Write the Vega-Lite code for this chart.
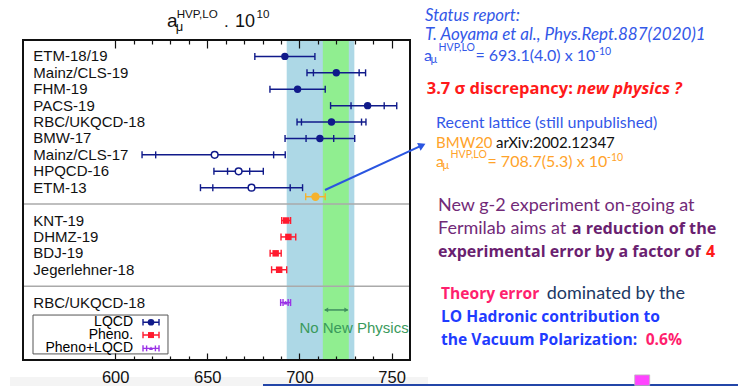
{
  "$schema": "https://vega.github.io/schema/vega-lite/v6.json",
  "width": 387,
  "height": 320,
  "autosize": "none",
  "padding": {"left": 23, "top": 40, "right": 328, "bottom": 26},
  "background": "white",
  "config": {"view": {"stroke": null}, "font": "Liberation Sans"},
  "datasets": {
    "results": [
      {"name": "ETM-18/19", "row": 1, "group": "LQCD", "value": 692.1, "lo": 675.8, "hi": 708.4},
      {"name": "Mainz/CLS-19", "row": 2, "group": "LQCD", "value": 720.0, "lo": 704.1, "hi": 735.9, "ilo": 707.6, "ihi": 732.4},
      {"name": "FHM-19", "row": 3, "group": "LQCD", "value": 699.0, "lo": 684.0, "hi": 714.0},
      {"name": "PACS-19", "row": 4, "group": "LQCD", "value": 737.0, "lo": 716.9, "hi": 752.8, "ilo": 728.0, "ihi": 746.0},
      {"name": "RBC/UKQCD-18", "row": 5, "group": "LQCD", "value": 717.4, "lo": 698.7, "hi": 736.1, "ilo": 701.1, "ihi": 733.7},
      {"name": "BMW-17", "row": 6, "group": "LQCD", "value": 711.1, "lo": 692.2, "hi": 730.0, "ilo": 703.6, "ihi": 718.6},
      {"name": "Mainz/CLS-17", "row": 7, "group": "LQCD", "superseded": true, "value": 654.0, "lo": 614.6, "hi": 692.3, "ilo": 622.0, "ihi": 686.0},
      {"name": "HPQCD-16", "row": 8, "group": "LQCD", "superseded": true, "value": 667.0, "lo": 653.6, "hi": 680.4, "ilo": 661.0, "ihi": 673.0},
      {"name": "ETM-13", "row": 9, "group": "LQCD", "superseded": true, "value": 674.0, "lo": 646.3, "hi": 701.7, "ilo": 653.0, "ihi": 695.0},
      {"name": "BMW20", "row": 9.55, "group": "BMW20", "value": 708.7, "lo": 703.4, "hi": 714.0},
      {"name": "KNT-19", "row": 11, "group": "Pheno.", "value": 692.8, "lo": 690.4, "hi": 695.2},
      {"name": "DHMZ-19", "row": 12, "group": "Pheno.", "value": 694.0, "lo": 690.0, "hi": 698.0},
      {"name": "BDJ-19", "row": 13, "group": "Pheno.", "value": 687.1, "lo": 684.1, "hi": 690.1},
      {"name": "Jegerlehner-18", "row": 14, "group": "Pheno.", "value": 689.0, "lo": 684.9, "hi": 693.1},
      {"name": "RBC/UKQCD-18", "row": 16, "group": "Pheno+LQCD", "value": 692.5, "lo": 689.8, "hi": 695.2, "ilo": 691.1, "ihi": 693.9}
    ]
  },
  "data": {"values": [{}]},
  "resolve": {"axis": {"x": "independent"}},
  "layer": [
    {"mark": {"type": "rect", "color": "#f4f4f4"},
     "encoding": {"x": {"datum": 542.95, "axis": null}, "x2": {"datum": 769.76}, "y": {"datum": 20.54, "axis": null}, "y2": {"datum": 21.08}}},
    {"mark": {"type": "rect", "color": "#add8e6"},
     "encoding": {
       "x": {"datum": 693.1, "type": "quantitative", "scale": {"domain": [550, 760], "nice": false, "zero": false},
             "axis": {"orient": "bottom", "values": [600,610,620,630,640,650,660,670,680,690,700,710,720,730,740,750],
                      "labelExpr": "datum.value % 50 === 0 ? datum.label : ''",
                      "tickSize": {"condition": {"test": "datum.value % 50 === 0", "value": -7}, "value": -4},
                      "tickColor": "#111", "tickWidth": 1.2, "domain": false, "grid": false, "title": null,
                      "labelFont": "Liberation Sans", "labelFontSize": 16.5, "labelColor": "#111", "labelPadding": 16,
                      "labelFlush": false, "labelOverlap": false, "zindex": 2}},
       "x2": {"datum": 729.8},
       "y": {"datum": 0, "type": "quantitative", "scale": {"domain": [0, 19.5], "reverse": true, "nice": false, "zero": false}, "axis": null},
       "y2": {"datum": 19.5}}},
    {"mark": {"type": "rect", "color": "#90ee90"},
     "encoding": {
       "x": {"datum": 712.7, "type": "quantitative",
             "axis": {"orient": "top", "values": [600,610,620,630,640,650,660,670,680,690,700,710,720,730,740,750],
                      "labels": false,
                      "tickSize": {"condition": {"test": "datum.value % 50 === 0", "value": -8}, "value": -4},
                      "tickColor": "#111", "tickWidth": 1.2, "domain": false, "grid": false, "title": null, "zindex": 2}},
       "x2": {"datum": 726.8},
       "y": {"datum": 0, "axis": null},
       "y2": {"datum": 19.5}}},
    {"mark": {"type": "rule", "color": "#aaaaaa", "strokeWidth": 1.5},
     "encoding": {"x": {"datum": 550, "axis": null}, "x2": {"datum": 760}, "y": {"datum": 10, "axis": null}}},
    {"mark": {"type": "rule", "color": "#aaaaaa", "strokeWidth": 1.5},
     "encoding": {"x": {"datum": 550, "axis": null}, "x2": {"datum": 760}, "y": {"datum": 15, "axis": null}}},
    {"data": {"name": "results"},
     "mark": {"type": "rule", "strokeWidth": 1.5},
     "encoding": {
       "x": {"field": "lo", "type": "quantitative", "axis": null}, "x2": {"field": "hi"},
       "y": {"field": "row", "type": "quantitative", "axis": null},
       "color": {"field": "group", "type": "nominal", "legend": null,
                 "scale": {"domain": ["LQCD", "Pheno.", "Pheno+LQCD", "BMW20"], "range": ["#101a8a", "#ff1a2e", "#9a32e6", "#f5b22e"]}}}},
    {"data": {"name": "results"},
     "mark": {"type": "tick", "orient": "vertical", "size": 7, "thickness": 1.4, "opacity": 1},
     "encoding": {"x": {"field": "lo", "type": "quantitative", "axis": null}, "y": {"field": "row", "type": "quantitative", "axis": null},
                  "color": {"field": "group", "type": "nominal", "legend": null}}},
    {"data": {"name": "results"},
     "mark": {"type": "tick", "orient": "vertical", "size": 7, "thickness": 1.4, "opacity": 1},
     "encoding": {"x": {"field": "hi", "type": "quantitative", "axis": null}, "y": {"field": "row", "type": "quantitative", "axis": null},
                  "color": {"field": "group", "type": "nominal", "legend": null}}},
    {"data": {"name": "results"},
     "mark": {"type": "tick", "orient": "vertical", "size": 7, "thickness": 1.4, "opacity": 1},
     "encoding": {"x": {"field": "ilo", "type": "quantitative", "axis": null}, "y": {"field": "row", "type": "quantitative", "axis": null},
                  "color": {"field": "group", "type": "nominal", "legend": null}}},
    {"data": {"name": "results"},
     "mark": {"type": "tick", "orient": "vertical", "size": 7, "thickness": 1.4, "opacity": 1},
     "encoding": {"x": {"field": "ihi", "type": "quantitative", "axis": null}, "y": {"field": "row", "type": "quantitative", "axis": null},
                  "color": {"field": "group", "type": "nominal", "legend": null}}},
    {"data": {"name": "results"},
     "transform": [{"filter": "datum.group === 'LQCD' && !datum.superseded"}],
     "mark": {"type": "point", "shape": "circle", "filled": true, "size": 55, "opacity": 1},
     "encoding": {"x": {"field": "value", "type": "quantitative", "axis": null}, "y": {"field": "row", "type": "quantitative", "axis": null},
                  "color": {"field": "group", "type": "nominal", "legend": null}}},
    {"data": {"name": "results"},
     "transform": [{"filter": "datum.superseded === true"}],
     "mark": {"type": "point", "shape": "circle", "filled": false, "fill": "white", "size": 45, "strokeWidth": 1.5, "opacity": 1},
     "encoding": {"x": {"field": "value", "type": "quantitative", "axis": null}, "y": {"field": "row", "type": "quantitative", "axis": null},
                  "color": {"field": "group", "type": "nominal", "legend": null}}},
    {"data": {"name": "results"},
     "transform": [{"filter": "datum.group === 'Pheno.'"}],
     "mark": {"type": "point", "shape": "square", "filled": true, "size": 42, "opacity": 1},
     "encoding": {"x": {"field": "value", "type": "quantitative", "axis": null}, "y": {"field": "row", "type": "quantitative", "axis": null},
                  "color": {"field": "group", "type": "nominal", "legend": null}}},
    {"data": {"name": "results"},
     "transform": [{"filter": "datum.group === 'Pheno+LQCD'"}],
     "mark": {"type": "point", "shape": "triangle-up", "filled": true, "size": 20, "opacity": 1},
     "encoding": {"x": {"field": "value", "type": "quantitative", "axis": null}, "y": {"field": "row", "type": "quantitative", "axis": null},
                  "color": {"field": "group", "type": "nominal", "legend": null}}},
    {"data": {"name": "results"},
     "transform": [{"filter": "datum.group === 'BMW20'"}],
     "mark": {"type": "point", "shape": "circle", "filled": true, "size": 70, "opacity": 1},
     "encoding": {"x": {"field": "value", "type": "quantitative", "axis": null}, "y": {"field": "row", "type": "quantitative", "axis": null},
                  "color": {"field": "group", "type": "nominal", "legend": null}}},
    {"data": {"name": "results"},
     "transform": [{"filter": "datum.group !== 'BMW20'"}],
     "mark": {"type": "text", "align": "left", "baseline": "middle", "font": "Liberation Sans", "fontSize": 15, "color": "#111"},
     "encoding": {"x": {"datum": 555.6, "axis": null}, "y": {"field": "row", "type": "quantitative", "axis": null}, "text": {"field": "name"}}},
    {"mark": {"type": "rect", "fill": "white", "stroke": "#555555", "strokeWidth": 1},
     "encoding": {"x": {"datum": 555.43, "axis": null}, "x2": {"datum": 628.68}, "y": {"datum": 16.76, "axis": null}, "y2": {"datum": 19.13}}},
    {"mark": {"type": "text", "text": "LQCD", "align": "right", "baseline": "middle", "font": "Liberation Sans", "fontSize": 14, "color": "#000"},
     "encoding": {"x": {"datum": 609.7, "axis": null}, "y": {"datum": 17.20, "axis": null}}},
    {"mark": {"type": "text", "text": "Pheno.", "align": "right", "baseline": "middle", "font": "Liberation Sans", "fontSize": 14, "color": "#000"},
     "encoding": {"x": {"datum": 609.7, "axis": null}, "y": {"datum": 17.98, "axis": null}}},
    {"mark": {"type": "text", "text": "Pheno+LQCD", "align": "right", "baseline": "middle", "font": "Liberation Sans", "fontSize": 14, "color": "#000"},
     "encoding": {"x": {"datum": 609.7, "axis": null}, "y": {"datum": 18.79, "axis": null}}},
    {"mark": {"type": "point", "shape": "M-1,0H1M-1,-0.4V0.4M1,-0.4V0.4", "filled": false, "size": 256, "strokeWidth": 1.4, "color": "#101a8a", "opacity": 1},
     "encoding": {"x": {"datum": 619.46, "axis": null}, "y": {"datum": 17.20, "axis": null}}},
    {"mark": {"type": "point", "shape": "circle", "filled": true, "size": 45, "color": "#101a8a", "opacity": 1},
     "encoding": {"x": {"datum": 619.46, "axis": null}, "y": {"datum": 17.20, "axis": null}}},
    {"mark": {"type": "point", "shape": "M-1,0H1M-1,-0.4V0.4M1,-0.4V0.4", "filled": false, "size": 256, "strokeWidth": 1.4, "color": "#ff1a2e", "opacity": 1},
     "encoding": {"x": {"datum": 619.46, "axis": null}, "y": {"datum": 17.98, "axis": null}}},
    {"mark": {"type": "point", "shape": "square", "filled": true, "size": 36, "color": "#ff1a2e", "opacity": 1},
     "encoding": {"x": {"datum": 619.46, "axis": null}, "y": {"datum": 17.98, "axis": null}}},
    {"mark": {"type": "point", "shape": "M-1,0H1M-1,-0.4V0.4M1,-0.4V0.4M-0.55,-0.35V0.35M0.55,-0.35V0.35", "filled": false, "size": 256, "strokeWidth": 1.4, "color": "#9a32e6", "opacity": 1},
     "encoding": {"x": {"datum": 619.46, "axis": null}, "y": {"datum": 18.79, "axis": null}}},
    {"mark": {"type": "point", "shape": "triangle-up", "filled": true, "size": 16, "color": "#9a32e6", "opacity": 1},
     "encoding": {"x": {"datum": 619.46, "axis": null}, "y": {"datum": 18.79, "axis": null}}},
    {"mark": {"type": "rule", "color": "#3f8f5f", "strokeWidth": 1.5},
     "encoding": {"x": {"datum": 713.8, "axis": null}, "x2": {"datum": 726.2}, "y": {"datum": 16.45, "axis": null}}},
    {"mark": {"type": "point", "shape": "triangle-left", "filled": true, "size": 22, "color": "#3f8f5f", "opacity": 1},
     "encoding": {"x": {"datum": 714.5, "axis": null}, "y": {"datum": 16.45, "axis": null}}},
    {"mark": {"type": "point", "shape": "triangle-right", "filled": true, "size": 22, "color": "#3f8f5f", "opacity": 1},
     "encoding": {"x": {"datum": 725.5, "axis": null}, "y": {"datum": 16.45, "axis": null}}},
    {"mark": {"type": "text", "text": "No New Physics", "align": "left", "baseline": "alphabetic", "font": "Liberation Sans", "fontSize": 15, "color": "#3a9a5c"},
     "encoding": {"x": {"datum": 700.0, "axis": null}, "y": {"datum": 17.84, "axis": null}}},
    {"mark": {"type": "rect", "filled": false, "color": "#111", "strokeWidth": 2},
     "encoding": {"x": {"datum": 550, "axis": null}, "x2": {"datum": 760}, "y": {"datum": 0, "axis": null}, "y2": {"datum": 19.5}}},
    {"mark": {"type": "rule", "color": "#2a55e0", "strokeWidth": 2},
     "encoding": {"x": {"datum": 713.88, "axis": null}, "y": {"datum": 9.14, "axis": null}, "x2": {"datum": 766.5}, "y2": {"datum": 6.42}}},
    {"mark": {"type": "point", "shape": "triangle-up", "angle": 65.3, "filled": true, "size": 70, "color": "#2a55e0", "opacity": 1},
     "encoding": {"x": {"datum": 766.6, "axis": null}, "y": {"datum": 6.42, "axis": null}}},
    {"mark": {"type": "text", "text": "a", "align": "left", "baseline": "alphabetic", "font": "Liberation Sans", "fontSize": 19, "color": "#111"},
     "encoding": {"x": {"datum": 628.14, "axis": null}, "y": {"datum": -0.81, "axis": null}}},
    {"mark": {"type": "text", "text": "μ", "align": "left", "baseline": "alphabetic", "font": "Liberation Sans", "fontSize": 13, "color": "#111"},
     "encoding": {"x": {"datum": 632.86, "axis": null}, "y": {"datum": -0.57, "axis": null}}},
    {"mark": {"type": "text", "text": "HVP,LO", "align": "left", "baseline": "alphabetic", "font": "Liberation Sans", "fontSize": 11.6, "color": "#111"},
     "encoding": {"x": {"datum": 633.4, "axis": null}, "y": {"datum": -1.32, "axis": null}}},
    {"mark": {"type": "text", "text": ".", "align": "left", "baseline": "alphabetic", "font": "Liberation Sans", "fontSize": 17, "color": "#111"},
     "encoding": {"x": {"datum": 659.07, "axis": null}, "y": {"datum": -0.81, "axis": null}}},
    {"mark": {"type": "text", "text": "10", "align": "left", "baseline": "alphabetic", "font": "Liberation Sans", "fontSize": 18, "color": "#111"},
     "encoding": {"x": {"datum": 665.04, "axis": null}, "y": {"datum": -0.81, "axis": null}}},
    {"mark": {"type": "text", "text": "10", "align": "left", "baseline": "alphabetic", "font": "Liberation Sans", "fontSize": 11.6, "color": "#111"},
     "encoding": {"x": {"datum": 676.7, "axis": null}, "y": {"datum": -1.32, "axis": null}}},
    {"mark": {"type": "text", "text": "Status report:", "align": "left", "baseline": "alphabetic", "font": "Lato", "fontSize": 16.8, "fontStyle": "italic", "color": "#3358e8"},
     "encoding": {"x": {"datum": 768.14, "axis": null}, "y": {"datum": -1.18, "axis": null}}},
    {"mark": {"type": "text", "text": "T. Aoyama et al., Phys.Rept.887(2020)1", "align": "left", "baseline": "alphabetic", "font": "Lato", "fontSize": 17, "fontStyle": "italic", "color": "#3358e8"},
     "encoding": {"x": {"datum": 768.14, "axis": null}, "y": {"datum": 0.0, "axis": null}}},
    {"mark": {"type": "text", "text": "a", "align": "left", "baseline": "alphabetic", "font": "Lato", "fontSize": 16, "color": "#3358e8"},
     "encoding": {"x": {"datum": 767.6, "axis": null}, "y": {"datum": 1.25, "axis": null}}},
    {"mark": {"type": "text", "text": "μ", "align": "left", "baseline": "alphabetic", "font": "Lato", "fontSize": 11, "color": "#3358e8"},
     "encoding": {"x": {"datum": 771.1, "axis": null}, "y": {"datum": 1.40, "axis": null}}},
    {"mark": {"type": "text", "text": "HVP,LO", "align": "left", "baseline": "alphabetic", "font": "Lato", "fontSize": 10.5, "color": "#3358e8"},
     "encoding": {"x": {"datum": 775.5, "axis": null}, "y": {"datum": 0.67, "axis": null}}},
    {"mark": {"type": "text", "text": "= 693.1(4.0) x 10", "align": "left", "baseline": "alphabetic", "font": "Lato", "fontSize": 16, "color": "#3358e8"},
     "encoding": {"x": {"datum": 795.5, "axis": null}, "y": {"datum": 1.25, "axis": null}}},
    {"mark": {"type": "text", "text": "-10", "align": "left", "baseline": "alphabetic", "font": "Lato", "fontSize": 10.5, "color": "#3358e8"},
     "encoding": {"x": {"datum": 860.4, "axis": null}, "y": {"datum": 0.91, "axis": null}}},
    {"mark": {"type": "text", "text": "3.7 σ discrepancy: ", "align": "left", "baseline": "alphabetic", "font": "Open Sans", "fontSize": 16.5, "fontWeight": "bold", "color": "#ff1a1a"},
     "encoding": {"x": {"datum": 769.06, "axis": null}, "y": {"datum": 3.31, "axis": null}}},
    {"mark": {"type": "text", "text": "new physics ?", "align": "left", "baseline": "alphabetic", "font": "Open Sans", "fontSize": 16.5, "fontWeight": "bold", "fontStyle": "italic", "color": "#ff1a1a"},
     "encoding": {"x": {"datum": 850.46, "axis": null}, "y": {"datum": 3.31, "axis": null}}},
    {"mark": {"type": "text", "text": "Recent lattice (still unpublished)", "align": "left", "baseline": "alphabetic", "font": "Lato", "fontSize": 16, "color": "#3358e8"},
     "encoding": {"x": {"datum": 774.11, "axis": null}, "y": {"datum": 5.38, "axis": null}}},
    {"mark": {"type": "text", "text": "BMW20", "align": "left", "baseline": "alphabetic", "font": "Lato", "fontSize": 15, "color": "#ffa32a"},
     "encoding": {"x": {"datum": 774.11, "axis": null}, "y": {"datum": 6.60, "axis": null}}},
    {"mark": {"type": "text", "text": "arXiv:2002.12347", "align": "left", "baseline": "alphabetic", "font": "Lato", "fontSize": 15, "color": "#111"},
     "encoding": {"x": {"datum": 806.67, "axis": null}, "y": {"datum": 6.60, "axis": null}}},
    {"mark": {"type": "text", "text": "a", "align": "left", "baseline": "alphabetic", "font": "Lato", "fontSize": 16, "color": "#ffa32a"},
     "encoding": {"x": {"datum": 774.11, "axis": null}, "y": {"datum": 7.74, "axis": null}}},
    {"mark": {"type": "text", "text": "μ", "align": "left", "baseline": "alphabetic", "font": "Lato", "fontSize": 11, "color": "#ffa32a"},
     "encoding": {"x": {"datum": 777.6, "axis": null}, "y": {"datum": 7.89, "axis": null}}},
    {"mark": {"type": "text", "text": "HVP,LO", "align": "left", "baseline": "alphabetic", "font": "Lato", "fontSize": 10.5, "color": "#ffa32a"},
     "encoding": {"x": {"datum": 782.0, "axis": null}, "y": {"datum": 7.19, "axis": null}}},
    {"mark": {"type": "text", "text": "= 708.7(5.3) x 10", "align": "left", "baseline": "alphabetic", "font": "Lato", "fontSize": 16, "color": "#ffa32a"},
     "encoding": {"x": {"datum": 802.05, "axis": null}, "y": {"datum": 7.74, "axis": null}}},
    {"mark": {"type": "text", "text": "-10", "align": "left", "baseline": "alphabetic", "font": "Lato", "fontSize": 10.5, "color": "#ffa32a"},
     "encoding": {"x": {"datum": 866.9, "axis": null}, "y": {"datum": 7.40, "axis": null}}},
    {"mark": {"type": "text", "text": "New g-2 experiment on-going at", "align": "left", "baseline": "alphabetic", "font": "Lato", "fontSize": 18, "color": "#722a78"},
     "encoding": {"x": {"datum": 775.19, "axis": null}, "y": {"datum": 10.40, "axis": null}}},
    {"mark": {"type": "text", "text": "Fermilab aims at ", "align": "left", "baseline": "alphabetic", "font": "Lato", "fontSize": 18, "color": "#722a78"},
     "encoding": {"x": {"datum": 775.19, "axis": null}, "y": {"datum": 11.82, "axis": null}}},
    {"mark": {"type": "text", "text": "a reduction of the", "align": "left", "baseline": "alphabetic", "font": "Open Sans", "fontSize": 16.2, "fontWeight": "bold", "color": "#6a1f70"},
     "encoding": {"x": {"datum": 847.74, "axis": null}, "y": {"datum": 11.82, "axis": null}}},
    {"mark": {"type": "text", "text": "experimental error by a factor of", "align": "left", "baseline": "alphabetic", "font": "Open Sans", "fontSize": 16, "fontWeight": "bold", "color": "#6a1f70"},
     "encoding": {"x": {"datum": 775.19, "axis": null}, "y": {"datum": 13.21, "axis": null}}},
    {"mark": {"type": "text", "text": "4", "align": "left", "baseline": "alphabetic", "font": "Open Sans", "fontSize": 16, "fontWeight": "bold", "color": "#ff1a1a"},
     "encoding": {"x": {"datum": 920.6, "axis": null}, "y": {"datum": 13.21, "axis": null}}},
    {"mark": {"type": "text", "text": "Theory error", "align": "left", "baseline": "alphabetic", "font": "Open Sans", "fontSize": 15.6, "fontWeight": "bold", "color": "#ff1f6e"},
     "encoding": {"x": {"datum": 776.82, "axis": null}, "y": {"datum": 15.78, "axis": null}}},
    {"mark": {"type": "text", "text": "dominated by the", "align": "left", "baseline": "alphabetic", "font": "Lato", "fontSize": 18, "color": "#203864"},
     "encoding": {"x": {"datum": 834.18, "axis": null}, "y": {"datum": 15.78, "axis": null}}},
    {"mark": {"type": "text", "text": "LO Hadronic contribution to", "align": "left", "baseline": "alphabetic", "font": "Open Sans", "fontSize": 15.6, "fontWeight": "bold", "color": "#1f3cff"},
     "encoding": {"x": {"datum": 776.82, "axis": null}, "y": {"datum": 17.17, "axis": null}}},
    {"mark": {"type": "text", "text": "the Vacuum Polarization:", "align": "left", "baseline": "alphabetic", "font": "Open Sans", "fontSize": 15.6, "fontWeight": "bold", "color": "#1f3cff"},
     "encoding": {"x": {"datum": 776.82, "axis": null}, "y": {"datum": 18.59, "axis": null}}},
    {"mark": {"type": "text", "text": "0.6%", "align": "left", "baseline": "alphabetic", "font": "Open Sans", "fontSize": 15.6, "fontWeight": "bold", "color": "#ff1f6e"},
     "encoding": {"x": {"datum": 887.89, "axis": null}, "y": {"datum": 18.59, "axis": null}}},
    {"mark": {"type": "rule", "color": "#2346a8", "strokeWidth": 2},
     "encoding": {"x": {"datum": 680.23, "axis": null}, "x2": {"datum": 937.98}, "y": {"datum": 21.02, "axis": null}}},
    {"mark": {"type": "rect", "color": "#ff44ff", "stroke": "#bbbbbb", "strokeWidth": 0.8},
     "encoding": {"x": {"datum": 881.93, "axis": null}, "x2": {"datum": 890.06}, "y": {"datum": 20.41, "axis": null}, "y2": {"datum": 21.05}}}
  ]
}
